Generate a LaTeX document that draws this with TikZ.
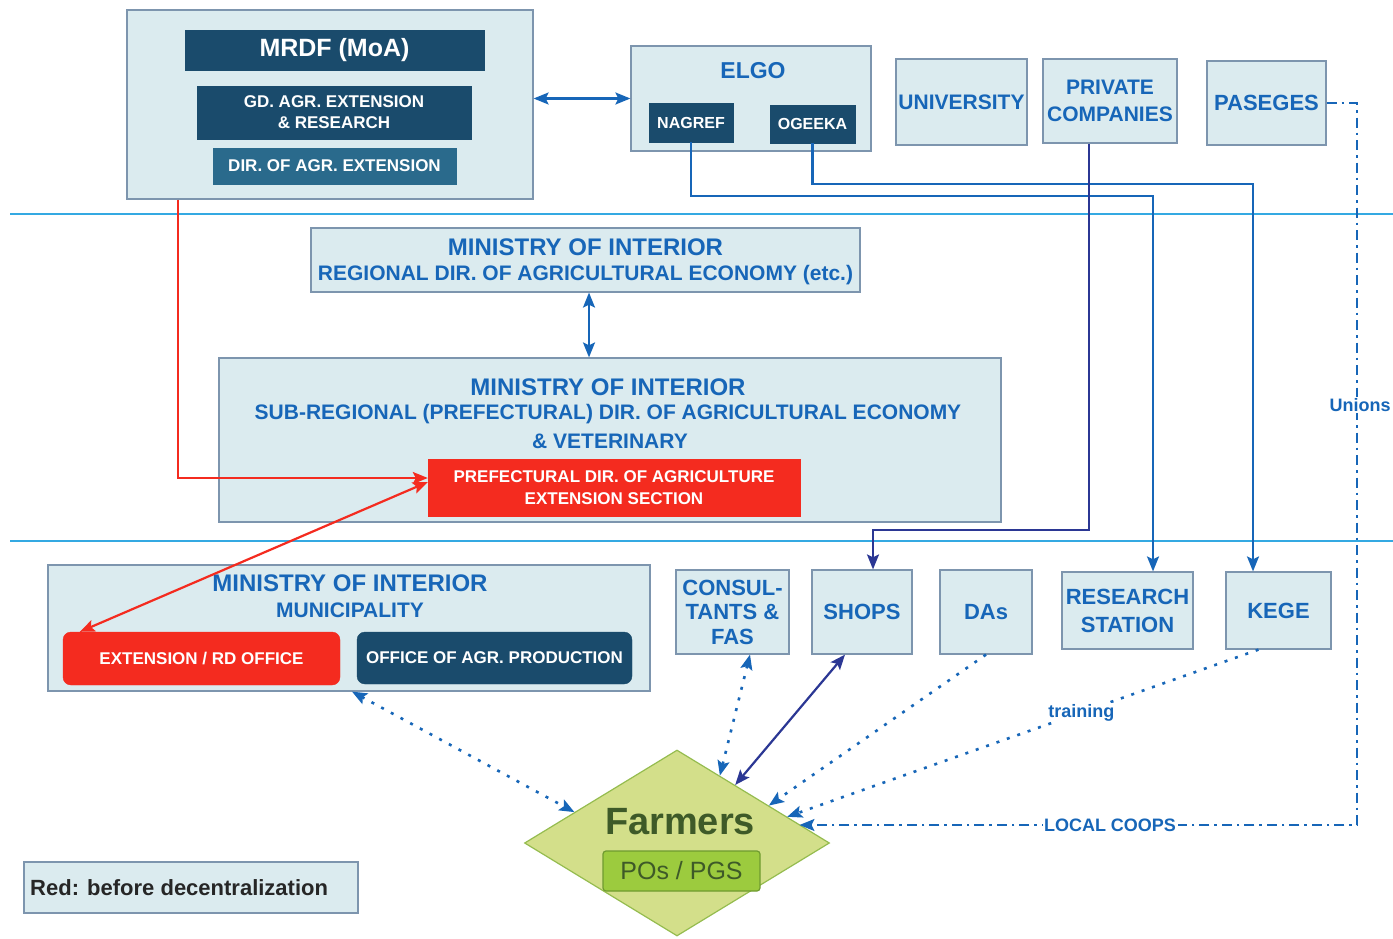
\documentclass[tikz,border=0pt]{standalone}
\usepackage{fontspec}
\setmainfont{Liberation Sans}
\usetikzlibrary{arrows.meta,shapes.geometric,calc}
\definecolor{lfill}{HTML}{DBEBEF}
\definecolor{bord}{HTML}{7D95AE}
\definecolor{dark}{HTML}{1A4B6C}
\definecolor{dirc}{HTML}{2A6A8C}
\definecolor{tblue}{HTML}{1766B8}
\definecolor{redc}{HTML}{F42B1F}
\definecolor{hline}{HTML}{34A9E2}
\definecolor{navy}{HTML}{2B3794}
\definecolor{dgreen}{HTML}{3E5A28}
\definecolor{dfill}{HTML}{D3DF8A}
\definecolor{dborder}{HTML}{95BC4F}
\definecolor{pfill}{HTML}{9CCB3E}
\definecolor{pborder}{HTML}{6F9B30}
\newcommand\myfs[2]{\fontsize{#1}{#2}\selectfont}
\begin{document}
\begin{tikzpicture}[x=1pt,y=-1pt,
  >={Stealth[width=12pt,length=15pt,inset=3pt]},
  box/.style={draw=bord, fill=lfill, line width=1.2pt, inner sep=0pt},
  dbox/.style={fill=dark, draw=dark, inner sep=0pt, text=white},
  rbox/.style={fill=redc, draw=redc, inner sep=0pt, text=white},
  btxt/.style={text=tblue, inner sep=0pt},
  bl/.style={draw=tblue, line width=2.2pt},
  nv/.style={draw=navy, line width=2.2pt},
  rd/.style={draw=redc, line width=2.2pt},
  dotl/.style={draw=tblue, line width=2.6pt, dash pattern=on 3pt off 8pt},
  ddl/.style={draw=tblue, line width=1.8pt, dash pattern=on 10pt off 5pt on 2.5pt off 5pt},
  lab/.style={fill=white, text=tblue, inner sep=1.5pt}]
\useasboundingbox (0,0) rectangle (1393,939);
\fill[white] (0,0) rectangle (1393,939);

% separator lines
\coordinate (h1a) at (10,214); \coordinate (h1b) at (1393,214);
\coordinate (h2a) at (10,541); \coordinate (h2b) at (1393,541);
\draw[hline, line width=1.8pt] (h1a) -- (h1b);
\draw[hline, line width=1.8pt] (h2a) -- (h2b);

% MRDF
\node[box, minimum width=406pt, minimum height=189pt] (mrdf) at (330,104.5) {};
\node[dbox, minimum width=299pt, minimum height=40pt, font=\bfseries\myfs{25}{28}] (moa) at (334.5,50) {MRDF (MoA)};
\node[dbox, minimum width=274pt, minimum height=53pt, align=center, font=\bfseries\myfs{17}{21}] (gd) at (334,112.5) {GD. AGR. EXTENSION\\\& RESEARCH};
\node[dbox, fill=dirc, draw=dirc, minimum width=243pt, minimum height=36pt, font=\bfseries\myfs{17}{20}] (dir) at (334.5,166) {DIR. OF AGR. EXTENSION};

% ELGO
\node[box, minimum width=240pt, minimum height=105pt] (elgo) at (751,98.5) {};
\node[btxt, font=\bfseries\myfs{23}{26}] (elgot) at (753,71) {ELGO};
\node[dbox, minimum width=84pt, minimum height=39pt, font=\bfseries\myfs{16}{19}] (nagref) at (691,122.5) {NAGREF};
\node[dbox, minimum width=85pt, minimum height=38pt, font=\bfseries\myfs{16}{19}] (ogeeka) at (812.5,124) {OGEEKA};

% top right
\node[box, text=tblue, minimum width=131pt, minimum height=86pt, font=\bfseries\myfs{21}{24}] (univ) at (961.5,102) {UNIVERSITY};
\node[box, text=tblue, align=center, minimum width=134pt, minimum height=84pt, font=\bfseries\myfs{21}{27}] (private) at (1110,101) {PRIVATE\\COMPANIES};
\node[box, text=tblue, minimum width=119pt, minimum height=84pt, font=\bfseries\myfs{22}{25}] (paseges) at (1266.5,103) {PASEGES};

% regional
\node[box, minimum width=549pt, minimum height=64pt] (regional) at (585.5,260) {};
\node[btxt, font=\bfseries\myfs{24}{27}] (regt1) at (585.5,247) {MINISTRY OF INTERIOR};
\node[btxt, font=\bfseries\myfs{21}{24}] (regt2) at (585.5,275) {REGIONAL DIR. OF AGRICULTURAL ECONOMY (etc.)};

% sub-regional
\node[box, minimum width=782pt, minimum height=164pt] (subreg) at (610,440) {};
\node[btxt, font=\bfseries\myfs{24}{27}] (subt1) at (608,387) {MINISTRY OF INTERIOR};
\node[btxt, font=\bfseries\myfs{21}{24}] (subt2) at (608,414) {SUB-REGIONAL (PREFECTURAL) DIR. OF AGRICULTURAL ECONOMY};
\node[btxt, font=\bfseries\myfs{21}{24}] (subt3) at (610,441) {\& VETERINARY};
\node[rbox, minimum width=372pt, minimum height=57pt, align=center, font=\bfseries\myfs{17}{22}] (pref) at (614,487.5) {PREFECTURAL DIR. OF AGRICULTURE\\EXTENSION SECTION};

% municipality
\node[box, minimum width=602pt, minimum height=126pt] (muni) at (349,628) {};
\node[btxt, font=\bfseries\myfs{24}{27}] (munt1) at (350,583) {MINISTRY OF INTERIOR};
\node[btxt, font=\bfseries\myfs{21}{24}] (munt2) at (350,610) {MUNICIPALITY};
\node[rbox, rounded corners=8pt, minimum width=277pt, minimum height=53pt, font=\bfseries\myfs{17}{20}] (ext) at (201.5,658.5) {EXTENSION / RD OFFICE};
\node[dbox, rounded corners=8pt, minimum width=275pt, minimum height=52pt, font=\bfseries\myfs{17}{20}] (office) at (494.5,658) {OFFICE OF AGR. PRODUCTION};

% bottom row
\node[box, text=tblue, align=center, minimum width=113pt, minimum height=84pt, font=\bfseries\myfs{22}{24.5}] (consul) at (732.5,612) {CONSUL-\\TANTS \&\\FAS};
\node[box, text=tblue, minimum width=100pt, minimum height=84pt, font=\bfseries\myfs{22}{25}] (shops) at (862,612) {SHOPS};
\node[box, text=tblue, minimum width=92pt, minimum height=84pt, font=\bfseries\myfs{22}{25}] (das) at (986,612) {DAs};
\node[box, text=tblue, align=center, minimum width=131pt, minimum height=77pt, font=\bfseries\myfs{22}{28}] (research) at (1127.5,610.5) {RESEARCH\\STATION};
\node[box, text=tblue, minimum width=105pt, minimum height=77pt, font=\bfseries\myfs{22}{25}] (kege) at (1278.5,610.5) {KEGE};

% farmers
\node[diamond, draw=dborder, fill=dfill, line width=1.2pt, minimum width=305pt, minimum height=186pt, inner sep=0pt] (farm) at (677,843) {};
\node[text=dgreen, inner sep=0pt, font=\bfseries\myfs{38}{40}] (farmt) at (680,822) {Farmers};
\node[draw=pborder, fill=pfill, line width=1.2pt, rounded corners=3pt, minimum width=157pt, minimum height=40pt, inner sep=0pt, text=dgreen, font=\myfs{25}{28}] (pos) at (681.5,871) {POs / PGS};

% legend
\node[box, minimum width=334pt, minimum height=51pt] (legend) at (191,887.5) {};
\node[inner sep=0pt, anchor=west, text=black!85, font=\bfseries\myfs{22}{24}] (legendt) at (30,887.5) {Red: before decentralization};

% connectors
\draw[bl, <->] (mrdf.east |- elgo.west) -- (elgo.west);
\draw[bl, <->] ([xshift=3.5pt]regional.south) -- ([xshift=3.5pt]regional.south |- subreg.north);
\draw[rd, ->] ([xshift=-152pt]mrdf.south) |- ([yshift=9.5pt]pref.west);
\draw[rd, <->] ([yshift=5.5pt]pref.west) -- ([xshift=17pt]ext.north west);

\coordinate (ny) at (0,196);
\coordinate (oy) at (0,184);
\coordinate (py) at (0,530);
\draw[bl, ->] (nagref.south) -- (nagref.south |- ny) -| ([xshift=25.5pt]research.north);
\draw[bl, ->] (ogeeka.south) -- (ogeeka.south |- oy) -| ([xshift=-25.5pt]kege.north);
\draw[nv, ->] ([xshift=-21pt]private.south) -- ([xshift=-21pt]private.south |- py) -| ([xshift=11pt]shops.north);

\draw[dotl, <->] ([xshift=3pt]muni.south) -- ($(farm.west)!0.33!(farm.north)$);
\draw[dotl, <->] ([xshift=17.5pt]consul.south) -- ($(farm.north)!0.28!(farm.east)$);
\draw[nv, <->] ([xshift=-17pt]shops.south) -- ($(farm.north)!0.38!(farm.east)$);
\draw[dotl, ->] (das.south) -- ($(farm.north)!0.6!(farm.east)$);
\draw[dotl, ->] ([xshift=-20pt]kege.south) -- ($(farm.north)!0.72!(farm.east)$)
  node[lab, pos=0.376, font=\bfseries\myfs{18}{20}] (train) {training};

\coordinate (uc) at (1357,825);
\coordinate (fe) at ($(farm.north)!0.8!(farm.east)$);
\draw[ddl, ->] (paseges.east) -| (uc) -- (uc -| fe);
\node[lab, font=\bfseries\myfs{18}{20}] (unions) at (1360,405) {Unions};
\node[lab, font=\bfseries\myfs{18}{20}] (coops) at (1110,825) {LOCAL COOPS};
\end{tikzpicture}
\end{document}
